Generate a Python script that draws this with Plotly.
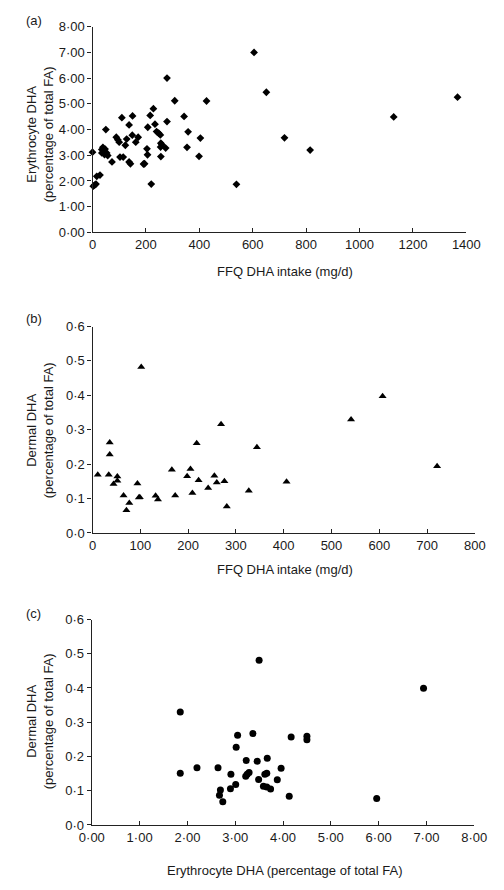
import plotly.graph_objects as go

# ---------------- data ----------------
a_ffq = [0, 3, 8, 13, 16, 28, 35, 39, 47, 45, 53, 57, 35, 50, 73, 89, 95, 100, 103, 115,
         110, 123, 128, 137, 150, 137, 142, 149, 162, 171, 191, 195, 204, 206, 207, 216,
         220, 228, 234, 240, 248, 254, 256, 260, 255, 256, 274, 279, 279, 308, 343, 358,
         354, 404, 399, 427, 539, 605, 651, 719, 815, 1128, 1367]
a_ery = [3.12, 1.80, 1.84, 1.88, 2.18, 2.23, 3.09, 3.31, 3.24, 3.03, 3.09, 2.99, 3.22, 4.00,
         2.74, 3.70, 3.60, 3.51, 2.93, 2.93, 4.46, 3.39, 3.63, 4.18, 4.53, 2.74, 2.67, 3.78,
         3.51, 3.70, 2.66, 2.67, 3.25, 3.02, 4.09, 4.55, 1.88, 4.81, 4.21, 3.92, 3.86, 3.79,
         3.47, 3.41, 3.32, 2.95, 3.28, 4.31, 6.00, 5.12, 4.51, 3.91, 3.31, 3.67, 2.96, 5.11,
         1.87, 7.00, 5.45, 3.68, 3.20, 4.49, 5.26]

b_ffq = [11, 34, 36, 36, 44, 52, 52, 65, 71, 77, 94, 97, 99, 102, 132, 137, 166, 173, 198,
         205, 209, 218, 222, 242, 255, 260, 269, 276, 281, 327, 344, 406, 541, 607, 721]
b_derm = [0.169, 0.169, 0.263, 0.228, 0.142, 0.164, 0.152, 0.109, 0.066, 0.087, 0.144, 0.103,
          0.104, 0.482, 0.108, 0.097, 0.184, 0.109, 0.165, 0.186, 0.116, 0.261, 0.153, 0.131,
          0.166, 0.147, 0.316, 0.150, 0.077, 0.123, 0.249, 0.149, 0.330, 0.397, 0.194]

c_ery = [1.85, 1.85, 2.20, 2.64, 2.67, 2.69, 2.74, 2.90, 2.91, 3.01, 3.02, 3.05, 3.22, 3.25,
         3.29, 3.23, 3.37, 3.46, 3.49, 3.50, 3.59, 3.62, 3.66, 3.67, 3.66, 3.74, 3.88, 3.96,
         4.13, 4.17, 4.50, 4.50, 5.96, 6.94]
c_derm = [0.330, 0.151, 0.167, 0.167, 0.087, 0.102, 0.068, 0.106, 0.148, 0.118, 0.227, 0.262,
          0.142, 0.148, 0.153, 0.188, 0.267, 0.186, 0.133, 0.481, 0.113, 0.148, 0.151, 0.195,
          0.111, 0.105, 0.132, 0.166, 0.084, 0.257, 0.249, 0.259, 0.077, 0.399]

a_xticks = [0, 200, 400, 600, 800, 1000, 1200, 1400]
a_yticks = [0, 1, 2, 3, 4, 5, 6, 7, 8]
a_yticklabels = ["0·00", "1·00", "2·00", "3·00", "4·00", "5·00", "6·00", "7·00", "8·00"]
b_xticks = [0, 100, 200, 300, 400, 500, 600, 700, 800]
d_yticks = [0, 0.1, 0.2, 0.3, 0.4, 0.5, 0.6]
d_yticklabels = ["0·0", "0·1", "0·2", "0·3", "0·4", "0·5", "0·6"]
c_xticks = [0, 1, 2, 3, 4, 5, 6, 7, 8]
c_xticklabels = ["0·00", "1·00", "2·00", "3·00", "4·00", "5·00", "6·00", "7·00", "8·00"]

W, H = 504, 890
FONT = "Liberation Sans, Arial, sans-serif"
TXT = "#1a1a1a"

fig = go.Figure()

fig.add_trace(go.Scatter(x=a_ffq, y=a_ery, mode="markers", xaxis="x", yaxis="y",
                         marker=dict(symbol="diamond", size=6, color="black"),
                         cliponaxis=False, showlegend=False))
fig.add_trace(go.Scatter(x=b_ffq, y=b_derm, mode="markers", xaxis="x2", yaxis="y2",
                         marker=dict(symbol="triangle-up", size=7, color="black"),
                         cliponaxis=False, showlegend=False))
fig.add_trace(go.Scatter(x=c_ery, y=c_derm, mode="markers", xaxis="x3", yaxis="y3",
                         marker=dict(symbol="circle", size=7, color="black"),
                         cliponaxis=False, showlegend=False))

def px(xp):
    return xp / W

def py(yp):
    return 1 - yp / H

axis_common = dict(showgrid=False, zeroline=False, showline=True, linecolor="#222",
                   linewidth=1.3, tickcolor="#222", ticklen=4, tickwidth=1,
                   tickfont=dict(family=FONT, size=13, color=TXT))

fig.update_layout(
    width=W, height=H, margin=dict(l=0, r=0, t=0, b=0),
    paper_bgcolor="white", plot_bgcolor="white",
    xaxis=dict(domain=[px(84), px(479)], range=[0, 1400], tickvals=a_xticks,
               ticks="inside", anchor="y", **axis_common),
    yaxis=dict(domain=[py(229.3), py(20)], range=[0, 8], tickvals=a_yticks,
               ticktext=a_yticklabels, ticks="outside", anchor="x", **axis_common),
    xaxis2=dict(domain=[px(84), px(488)], range=[0, 800], tickvals=b_xticks,
                ticks="inside", anchor="y2", **axis_common),
    yaxis2=dict(domain=[py(535), py(325)], range=[0, 0.6], tickvals=d_yticks,
                ticktext=d_yticklabels, ticks="outside", anchor="x2", **axis_common),
    xaxis3=dict(domain=[px(83.3), px(487.3)], range=[0, 8], tickvals=c_xticks,
                ticktext=c_xticklabels, ticks="inside", anchor="y3", **axis_common),
    yaxis3=dict(domain=[py(832), py(623)], range=[0, 0.6], tickvals=d_yticks,
                ticktext=d_yticklabels, ticks="outside", anchor="x3", **axis_common),
)

ann_font = dict(family=FONT, size=13, color=TXT)

def ann(text, x, y, angle=0, xanchor="center"):
    fig.add_annotation(text=text, xref="paper", yref="paper", x=px(x), y=py(y),
                       xanchor=xanchor, yanchor="middle", showarrow=False,
                       textangle=angle, font=ann_font)

# panel labels
ann("(a)", 12, 14, xanchor="left")
ann("(b)", 12, 317, xanchor="left")
ann("(c)", 12, 617, xanchor="left")

# x titles
ann("FFQ DHA intake (mg/d)", 287, 269)
ann("FFQ DHA intake (mg/d)", 287, 572)
ann("Erythrocyte DHA (percentage of total FA)", 287, 878)

# y titles
ann("Erythrocyte DHA<br>(percentage of total FA)", 28, 130, angle=-90)
ann("Dermal DHA<br>(percentage of total FA)", 28, 431, angle=-90)
ann("Dermal DHA<br>(percentage of total FA)", 28, 727, angle=-90)

fig.write_html("out.html",
               config={"displayModeBar": False},
               post_script="document.body.style.margin='0';document.body.style.overflow='hidden';")
